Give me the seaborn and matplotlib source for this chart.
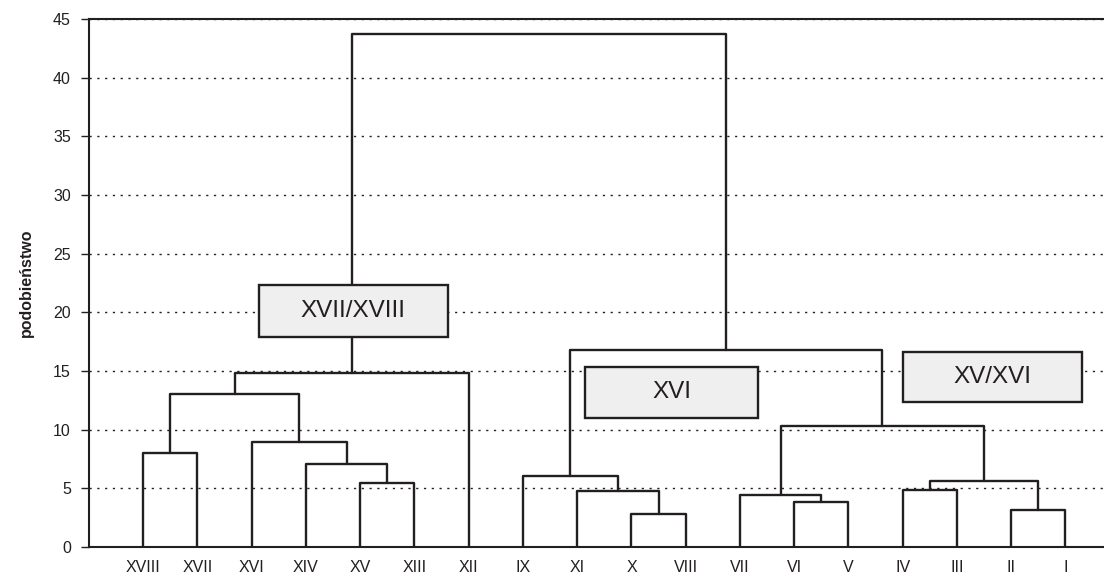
import matplotlib
matplotlib.use('Agg')
import matplotlib.pyplot as plt
import matplotlib.patches as mpatches
import numpy as np
import pandas as pd
import seaborn as sns

# leaves in display order (left to right)
leaves = ['XVIII', 'XVII', 'XVI', 'XIV', 'XV', 'XIII', 'XII', 'IX', 'XI',
          'X', 'VIII', 'VII', 'VI', 'V', 'IV', 'III', 'II', 'I']

# merges: node ids < 18 are leaves, new nodes get ids 18, 19, ...
merge_a = [9, 16, 12, 11, 8, 14, 4, 23, 7, 3, 0, 2, 21, 28, 31, 26, 32]
merge_b = [10, 17, 13, 20, 18, 15, 5, 19, 22, 24, 1, 27, 25, 29, 6, 30, 33]
merge_h = [2.8, 3.15, 3.8, 4.4, 4.8, 4.85, 5.45, 5.65, 6.05, 7.05, 8.0,
           8.95, 10.3, 13.0, 14.85, 16.8, 43.7]

# group labels
groups = ['XVII/XVIII', 'XVI', 'XV/XVI']

y_ticks = [0, 5, 10, 15, 20, 25, 30, 35, 40, 45]

sns.set_theme(style='ticks')
plt.rcParams['font.family'] = ['Liberation Sans', 'DejaVu Sans']

# node positions from the merge table
n = len(leaves)
node_x = {i: i + 1 for i in range(n)}
node_h = {i: 0.0 for i in range(n)}
rows = []
for k, (a, b, h) in enumerate(zip(merge_a, merge_b, merge_h)):
    xa, xb = node_x[a], node_x[b]
    ha, hb = node_h[a], node_h[b]
    for px, py in zip([xa, xa, xb, xb], [ha, h, h, hb]):
        rows.append({'link': k, 'x': px, 'y': py})
    node_x[n + k] = (xa + xb) / 2
    node_h[n + k] = h
links = pd.DataFrame(rows)

fig = plt.figure(figsize=(11.04, 5.76), dpi=100)
ax = fig.add_axes([0.0806, 0.0503, 0.9194, 0.9167])

ax.set_axisbelow(True)
ax.yaxis.grid(True, linestyle=(0, (1.6, 4)), color='#222222', linewidth=1.0)
ax.xaxis.grid(False)

sns.lineplot(data=links, x='x', y='y', units='link', estimator=None,
             sort=False, color='#231f20', linewidth=1.7, ax=ax, zorder=3)

# group boxes
box_pos = [(3.14, 17.9, 3.47, 4.44), (9.15, 11.0, 3.18, 4.37), (15.0, 12.39, 3.31, 4.26)]
for label, (bx, by, bw, bh) in zip(groups, box_pos):
    ax.add_patch(mpatches.Rectangle((bx, by), bw, bh, facecolor='#efefef',
                                    edgecolor='#231f20', linewidth=1.7, zorder=4))
    ax.text(bx + bw / 2, by + bh / 2, label, ha='center', va='center',
            fontsize=17.5, color='#231f20', zorder=5)

ax.set_xlim(0, 18.71)
ax.set_ylim(0, 45)
ax.set_yticks(y_ticks)
ax.set_xticks(range(1, n + 1))
ax.set_xticklabels(leaves)
ax.tick_params(axis='x', length=0, pad=9, labelsize=11.5, colors='#231f20')
ax.tick_params(axis='y', length=6, width=1, pad=7, labelsize=11.5, colors='#231f20')
ax.set_xlabel('')
ax.set_ylabel('podobieństwo', fontsize=11.5, fontweight='bold', labelpad=14, color='#231f20')

for side in ['left', 'bottom', 'top']:
    ax.spines[side].set_color('#231f20')
    ax.spines[side].set_linewidth(1.5)
ax.spines['right'].set_visible(False)

fig.savefig('out.png', dpi=100)
